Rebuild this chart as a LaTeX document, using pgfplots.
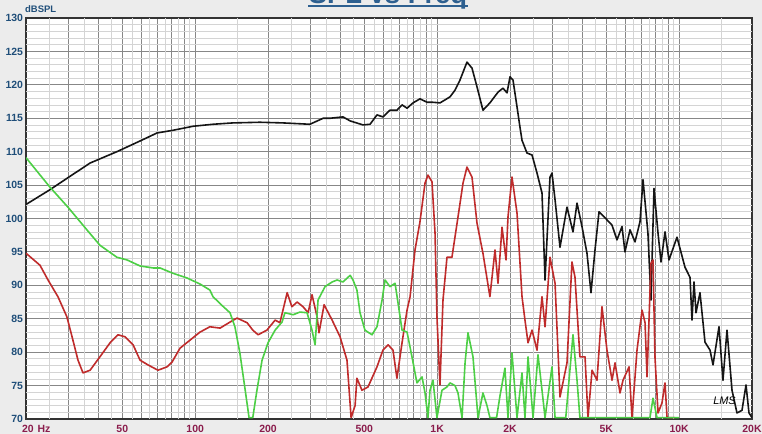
\documentclass[border=0pt]{standalone}
\usepackage{pgfplots}
\pgfplotsset{compat=1.18}
\usepackage{fontspec}
\setmainfont{Liberation Sans}
\definecolor{bgc}{HTML}{ECECEC}
\definecolor{ylab}{HTML}{1F4E79}
\definecolor{xlab}{HTML}{8B1C4C}
\definecolor{gdark}{HTML}{878787}
\definecolor{glight}{HTML}{D4D4D4}
\definecolor{cblack}{HTML}{151515}
\definecolor{cred}{HTML}{BF2B2B}
\definecolor{cgreen}{HTML}{4CCF45}
\definecolor{ctitle}{HTML}{2E6090}
\begin{document}
\begin{tikzpicture}
\useasboundingbox (0,0) rectangle (762bp,434bp);
\fill[bgc] (0,0) rectangle (762bp,434bp);
\node[overlay, anchor=base, font=\fontsize{27.5}{30}\selectfont\bfseries, text=ctitle, inner sep=0] at (388bp,430.5bp) {SPL vs Freq};
\draw[overlay, ctitle, line width=2.5bp] (308bp,428bp) -- (468bp,428bp);
\node[anchor=base west, inner sep=0, font=\fontsize{9.5}{10}\selectfont\bfseries, text=ylab] at (25bp,421bp) {dBSPL};
\begin{axis}[
  at={(26bp,15bp)}, anchor=south west, scale only axis,
  width=726bp, height=401bp,
  xmode=log, xmin=20, xmax=20000, ymin=70, ymax=130,
  axis background/.style={fill=white},
  axis line style={draw=black!80, line width=1.3bp},
  tick style={draw=none},
  major tick length=0pt, minor tick length=0pt,
  grid=both,
  major grid style={gdark, line width=0.9bp},
  minor grid style={gdark, line width=0.9bp},
  xtick={20,50,100,200,500,1000,2000,5000,10000,20000},
  xticklabels={\makebox[0pt][l]{\hspace*{-4bp}20\hspace{4bp}Hz},50,100,200,500,1K,2K,5K,10K,20K},
  minor xtick={30,40,60,70,80,90,300,400,600,700,800,900,3000,4000,6000,7000,8000,9000},
  extra x ticks={25,35,45,55,65,75,85,95,150,250,350,450,550,650,750,850,950,1500,2500,3500,4500,5500,6500,7500,8500,9500,15000},
  extra x tick labels={},
  extra x tick style={grid=major, major grid style={glight, line width=0.8bp}},
  ytick={70,75,...,130},
  extra y ticks={71,72,73,74,76,77,78,79,81,82,83,84,86,87,88,89,91,92,93,94,96,97,98,99,101,102,103,104,106,107,108,109,111,112,113,114,116,117,118,119,121,122,123,124,126,127,128,129},
  extra y tick labels={},
  extra y tick style={grid=major, major grid style={glight, line width=0.7bp}},
  /pgf/number format/assume math mode=true,
  ticklabel style={font=\fontsize{10.5}{12}\selectfont\bfseries},
  xticklabel style={text=xlab, yshift=-2.5bp},
  yticklabel style={text=ylab, xshift=0.5bp},
  every axis plot/.append style={line width=1.6bp, line join=round},
]
% SPL (black)
\addplot[cblack] coordinates {
(20,102.1) (25.1,104.3) (29.8,106.1) (36.8,108.3) (47.5,110.0) (59.2,111.6) (69.6,112.8) (81,113.2) (98,113.8) (118.5,114.1) (143,114.3) (185,114.4) (231,114.3) (298,114.1) (338,115.0) (361,115.0) (408,115.2) (437,114.6) (494,114.0) (528,114.1) (564,115.5) (597,115.2) (638,116.2) (682,116.2) (716,117.0) (751,116.5) (795,117.3) (849,117.9) (908,117.4) (952,117.4) (1028,117.3) (1130,118.2) (1185,119.2) (1242,120.7) (1328,123.4) (1393,122.5) (1461,119.7) (1546,116.2) (1652,117.3) (1784,118.9) (1870,119.5) (1944,118.8) (2000,121.2) (2058,120.7) (2138,116.7) (2198,113.7) (2242,111.7) (2350,109.8) (2466,109.5) (2586,106.8) (2712,103.8) (2791,90.8) (2926,106.2) (2982,106.8) (3070,102.8) (3218,95.7) (3440,101.7) (3642,98.0) (3784,102.3) (3968,98.8) (4160,94.8) (4322,88.9) (4490,95.3) (4664,101.0) (4940,100.1) (5280,99.0) (5534,96.8) (5806,98.8) (5970,95.0) (6266,98.3) (6570,96.5) (6888,99.5) (7090,105.8) (7430,97.8) (7648,87.8) (7872,104.5) (8178,97.8) (8414,93.5) (8740,98.0) (9078,93.8) (9796,97.2) (10572,92.7) (11086,91.2) (11298,84.8) (11516,90.5) (11738,85.9) (12190,88.9) (12786,81.5) (13412,80.3) (13800,78.1) (14610,83.8) (15172,75.8) (15764,83.3) (16534,74.3) (17338,70.9) (18186,71.3) (18892,75.1) (19436,70.9) (20000,70.2)
};
% red
\addplot[cred] coordinates {
(20,94.8) (22.85,93.0) (24.66,90.8) (27.1,88.3) (29.5,85.3) (31.0,82.3) (32.8,78.8) (34.4,76.9) (36.8,77.3) (40.4,79.3) (44.5,81.4) (48.0,82.6) (51.3,82.3) (55.4,81.1) (59.2,78.8) (63.8,78.1) (70.2,77.3) (76.5,77.8) (80.2,78.5) (86.6,80.6) (95.2,81.8) (104.7,83.0) (115,83.8) (126.7,83.6) (139.3,84.5) (149,85.1) (164,84.4) (173,83.3) (182,82.6) (198,83.3) (214,84.8) (224,84.4) (240,88.9) (251,86.8) (264,87.5) (279,86.8) (293,85.9) (304,88.6) (319,85.3) (325,82.9) (341,87.1) (368,84.8) (397,82.3) (424,78.8) (441,70.2) (458,72) (466,76.1) (489,74.3) (518,74.8) (564,77.8) (597,80.3) (627,81.1) (657,80.3) (682,76.1) (716,81.4) (751,86.3) (773,88.3) (810,95.3) (849,99.5) (891,105.3) (916,106.5) (952,105.5) (980,97.8) (998,85.3) (1027,75.1) (1057,87.8) (1098,94.2) (1151,94.2) (1219,100.2) (1279,105.3) (1328,107.7) (1393,106.2) (1461,99.3) (1546,94.8) (1652,88.3) (1734,95.3) (1784,90.3) (1854,98.7) (1926,93.8) (1962,100.2) (2038,106.2) (2138,100.8) (2242,88.3) (2306,84.8) (2374,81.4) (2466,83.3) (2586,80.3) (2712,88.3) (2791,83.8) (2926,94.2) (3070,90.3) (3218,73.3) (3440,78.4) (3606,93.5) (3712,91.2) (3890,79.3) (4084,79.3) (4200,70.2) (4366,77.3) (4576,75.8) (4798,86.8) (5032,80.3) (5280,75.8) (5432,78.4) (5696,73.9) (5862,75.8) (6206,77.8) (6384,70.2) (6696,80.3) (7026,86.3) (7228,84.4) (7366,76.3) (7648,93.3) (7798,93.8) (7944,79.3) (8178,70.9) (8492,72.4) (8740,75.4) (8912,70.2) (9600,70.2)
};
% green
\addplot[cgreen] coordinates {
(20,109.1) (25.1,104.7) (29.8,101.7) (35.7,98.3) (40.4,96.0) (47.5,94.2) (52.3,93.8) (59.2,92.9) (67,92.6) (71.6,92.6) (81,91.8) (92.5,91.1) (104.7,90.2) (115,89.3) (118.5,88.3) (129,87.0) (139.3,85.9) (146,83.8) (153,79.9) (161,74.3) (167,70.2) (173,70.2) (180,74.3) (189,78.8) (200,81.4) (214,83.3) (228.5,84.5) (235,85.9) (254,85.6) (271,86.0) (290,85.9) (304,83.3) (313,81.1) (322,87.8) (344,89.8) (368,90.5) (386,90.8) (408,90.5) (437,91.5) (449,90.8) (466,89.3) (480,85.9) (503,83.3) (538,82.6) (564,83.8) (592,87.8) (609,90.8) (638,89.8) (670,90.3) (689,87.4) (716,83.3) (751,83.0) (787,79.3) (825,75.4) (866,76.3) (891,73.9) (916,70.2) (934,74.3) (961,75.8) (998,70.2) (1047,74.3) (1098,74.8) (1130,75.4) (1185,75.0) (1219,73.9) (1267,70.2) (1304,78.4) (1341,82.9) (1406,79.3) (1475,70.2) (1546,73.9) (1607,72) (1652,70.2) (1760,70.2) (1819,73.5) (1906,77.6) (1962,70.2) (2038,79.9) (2138,70.2) (2242,76.9) (2306,70.2) (2374,79.3) (2490,70.2) (2610,79.6) (2712,74.3) (2791,70.2) (2982,77.8) (3070,70.2) (3400,70.2) (3642,82.6) (3784,75.8) (3890,70.2) (7576,70.2) (7798,73.1) (8100,70.2) (10000,70.2)
};
\node[font=\fontsize{11}{12}\selectfont\itshape, text=black] at (axis cs:15400,72.8) {LMS};
\end{axis}
\end{tikzpicture}
\end{document}
